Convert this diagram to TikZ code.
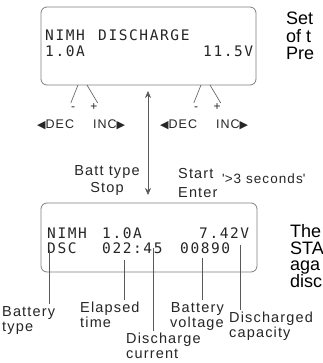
\documentclass[tikz,border=0pt]{standalone}
\usepackage{fontspec}
\setmainfont[LetterSpace=8]{Liberation Sans}
\newfontfamily\lcdfont[LetterSpace=11]{DejaVu Sans Mono}
\newfontfamily\notefont{Liberation Sans}
\newfontfamily\symfont{DejaVu Sans}
\usetikzlibrary{arrows.meta}

\newcommand\tipL{{\symfont\fontsize{11}{11}\selectfont ◀}}
\newcommand\tipR{{\symfont\fontsize{11}{11}\selectfont ▶}}

\begin{document}
\begin{tikzpicture}[
  x=1pt, y=-1pt,
  lcdbox/.style={draw=black!50, line width=0.8pt, rounded corners=6pt, inner sep=0pt},
  lcd/.style={inner sep=0pt, anchor=base west, text=black!85,
    font={\lcdfont\fontsize{14.5}{14.5}\selectfont}},
  lbl/.style={inner sep=0pt, anchor=north west, align=left, text=black!85,
    font={\fontsize{14.5}{15}\selectfont}},
  key/.style={inner sep=0pt, anchor=base west, text=black!85,
    font={\fontsize{12.5}{12.5}\selectfont}},
  sign/.style={inner sep=0pt, anchor=north, text height=7pt, text depth=0pt,
    text=black!85, font={\fontsize{12}{12}\selectfont}},
  note/.style={inner sep=0pt, anchor=north west, align=left,
    font={\notefont\fontsize{18}{17.5}\selectfont}},
  wire/.style={draw=black!65, line width=0.6pt},
  callout/.style={wire, shorten >=2pt},
]
  \fill[white] (0,0) rectangle (322,363);
  \useasboundingbox (0,0) rectangle (322,363);

  % display before start
  \node[lcdbox, minimum width=215pt, minimum height=78pt] (topLcd) at (148.5,46) {};
  \node[lcd] (tType) at (45,41) {NIMH};
  \node[lcd] (tMode) at (98,41) {DISCHARGE};
  \node[lcd] (tAmp) at (45,57) {1.0A};
  \node[lcd] (tVolt) at (203,57) {11.5V};

  \foreach \k/\o in {L/0, R/123} {
    \node[key] (dec\k) at (37+\o,129) {\tipL DEC};
    \node[key] (inc\k) at (93+\o,129) {INC\tipR};
    \node[sign] (minus\k) at (73+\o,103) {-};
    \node[sign] (plus\k) at (94+\o,103) {+};
    \coordinate (m\k) at (78+\o,85);
    \coordinate (p\k) at (87+\o,85);
    \draw[wire] (m\k) -- (minus\k.north west);
    \draw[wire] (p\k) -- (plus\k.north east);
  }

  \coordinate (up) at (148,91);
  \coordinate (down) at (148,195);
  \draw[wire, {Stealth[length=7pt,width=6pt]}-{Stealth[length=7pt,width=6pt]}] (up) -- (down);

  \node[lbl, anchor=north, align=center, font={\fontsize{14.5}{17}\selectfont}] (lblBatt) at (107,165) {Batt type\\Stop};
  \node[lbl, font={\fontsize{14.5}{19}\selectfont}] (lblStart) at (178,168) {Start\\Enter};
  \node[lbl, font={\fontsize{13.5}{14}\selectfont}] (lblHold) at (222,174) {\textquotesingle>3 seconds\textquotesingle};

  % display while discharging
  \node[lcdbox, minimum width=216pt, minimum height=69pt] (botLcd) at (149,237.5) {};
  \node[lcd] (bType) at (47,238) {NIMH};
  \node[lcd] (bAmp) at (102,238) {1.0A};
  \node[lcd] (bVolt) at (199,238) {7.42V};
  \node[lcd] (bMode) at (47,253) {DSC};
  \node[lcd] (bTime) at (102,253) {022:45};
  \node[lcd] (bCap) at (180,253) {00890};

  \node[lbl] (lblType) at (2,306) {Battery\\type};
  \node[lbl] (lblTime) at (80,302) {Elapsed\\time};
  \node[lbl] (lblCur) at (126,333) {Discharge\\current};
  \node[lbl, anchor=north east, align=right] (lblVolt) at (224,302) {Battery\\voltage};
  \node[lbl] (lblCap) at (229,312) {Discharged\\capacity};

  \coordinate (pType) at (49,250);
  \coordinate (pTime) at (124,260);
  \coordinate (pCur) at (153,248);
  \coordinate (pVolt) at (202,258);
  \coordinate (pCap) at (240,245);
  \foreach \p/\l in {pType/lblType, pTime/lblTime, pCur/lblCur, pVolt/lblVolt, pCap/lblCap}
    \draw[callout] (\p) -- (\p |- \l.north);

  \node[note] (noteTop) at (286,12) {Set\\of t\\Pre};
  \node[note, font={\notefont\fontsize{18}{16.8}\selectfont}] (noteBot) at (290,224) {The\\STA\\aga\\disc};
\end{tikzpicture}
\end{document}
